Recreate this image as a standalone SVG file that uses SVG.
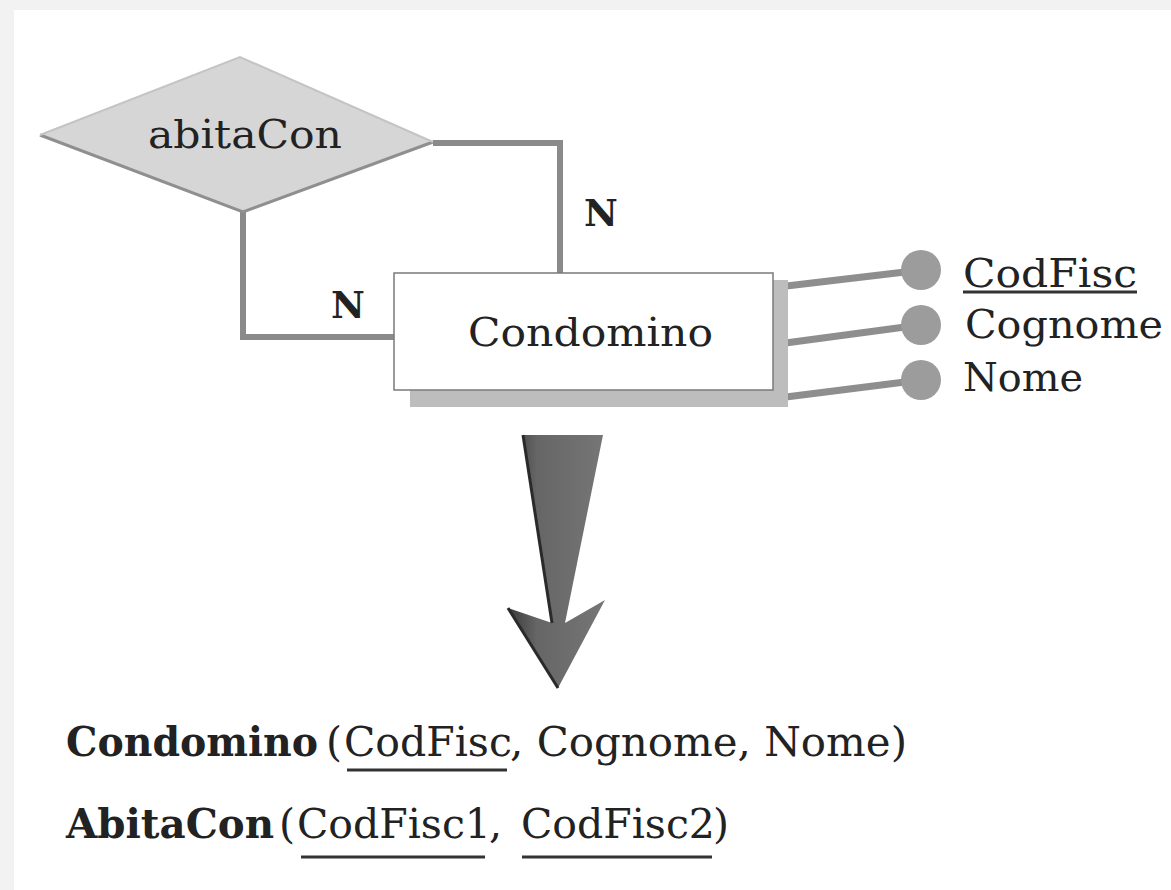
<svg xmlns="http://www.w3.org/2000/svg" width="1171" height="890" viewBox="0 0 1171 890">
  <defs>
    <style>
      .t { font-family: "DejaVu Serif", "Liberation Serif", serif; fill: #222; }
      .b { font-weight: bold; }
      .link { fill: none; stroke: #8a8a8a; stroke-width: 6; stroke-linejoin: miter; }
      .attr { stroke: #8e8e8e; stroke-width: 7; stroke-linecap: round; }
      .dot { fill: #9c9c9c; }
      .ul { stroke: #333; stroke-width: 3; }
    </style>
    <linearGradient id="arrowFill" x1="0" y1="0" x2="1" y2="0">
      <stop offset="0" stop-color="#3a3a3a"/>
      <stop offset="0.3" stop-color="#666666"/>
      <stop offset="1" stop-color="#767676"/>
    </linearGradient>
  </defs>

  <!-- page -->
  <rect x="0" y="0" width="1171" height="890" fill="#f2f2f2"/>
  <rect x="14" y="10" width="1157" height="880" fill="#ffffff"/>

  <!-- connectors -->
  <g id="connectors">
    <polyline class="link" points="433,143 560,143 560,273"/>
    <polyline class="link" points="243,210 243,337 394,337"/>
    <line class="attr" x1="778" y1="287" x2="905" y2="272"/>
    <line class="attr" x1="778" y1="344" x2="905" y2="327"/>
    <line class="attr" x1="778" y1="398" x2="905" y2="382"/>
  </g>

  <!-- relationship -->
  <g id="abitaCon">
    <polygon points="40,135 240,57 433,142 243,212" fill="#d6d6d6"/>
    <polyline points="40,135 243,212 433,142" fill="none" stroke="#8f8f8f" stroke-width="3"/>
    <polyline points="40,135 240,57 433,142" fill="none" stroke="#c4c4c4" stroke-width="2"/>
    <text class="t" x="148" y="148" font-size="39" textLength="194" lengthAdjust="spacingAndGlyphs">abitaCon</text>
  </g>

  <!-- cardinalities -->
  <g id="card-top">
    <text class="t b" x="584" y="226" font-size="37">N</text>
  </g>
  <g id="card-left">
    <text class="t b" x="331" y="318" font-size="37">N</text>
  </g>

  <!-- entity -->
  <g id="condomino">
    <polygon points="773,280 788,280 788,407 410,407 410,390 773,390" fill="#bdbdbd"/>
    <rect x="394" y="273" width="379" height="117" fill="#ffffff" stroke="#7a7a7a" stroke-width="1.5"/>
    <text class="t" x="468" y="346" font-size="40" textLength="245" lengthAdjust="spacingAndGlyphs">Condomino</text>
  </g>

  <!-- attributes -->
  <g id="attr-codfisc">
    <circle class="dot" cx="921" cy="270" r="20"/>
    <text class="t" x="963" y="287" font-size="40" textLength="174" lengthAdjust="spacingAndGlyphs">CodFisc</text>
    <line class="ul" x1="963" y1="292" x2="1137" y2="292"/>
  </g>
  <g id="attr-cognome">
    <circle class="dot" cx="921" cy="325" r="20"/>
    <text class="t" x="965" y="338" font-size="40" textLength="198" lengthAdjust="spacingAndGlyphs">Cognome</text>
  </g>
  <g id="attr-nome">
    <circle class="dot" cx="921" cy="380" r="20"/>
    <text class="t" x="963" y="391" font-size="40" textLength="120" lengthAdjust="spacingAndGlyphs">Nome</text>
  </g>

  <!-- translation arrow -->
  <g id="arrow">
    <polygon points="523,435 603,435 565,623 605,600 558,688 508,608 552,623" fill="url(#arrowFill)"/>
    <polyline points="523,435 552,623" fill="none" stroke="#2a2a2a" stroke-width="3"/>
    <polyline points="508,608 558,688" fill="none" stroke="#2a2a2a" stroke-width="3"/>
  </g>

  <!-- relational schema -->
  <g id="schema-condomino">
    <text class="t b" x="66" y="756" font-size="41" textLength="252" lengthAdjust="spacingAndGlyphs">Condomino</text>
    <text class="t" x="326" y="756" font-size="41">(</text>
    <text class="t" x="344" y="756" font-size="41">CodFisc</text>
    <text class="t" x="510" y="756" font-size="41" textLength="397" lengthAdjust="spacingAndGlyphs">, Cognome, Nome)</text>
    <line class="ul" x1="347" y1="770" x2="507" y2="770"/>
  </g>
  <g id="schema-abitacon">
    <text class="t b" x="66" y="838" font-size="41" textLength="208" lengthAdjust="spacingAndGlyphs">AbitaCon</text>
    <text class="t" x="279" y="838" font-size="41">(</text>
    <text class="t" x="297" y="838" font-size="41">CodFisc1</text>
    <text class="t" x="489" y="838" font-size="41">,</text>
    <text class="t" x="521" y="838" font-size="41">CodFisc2</text>
    <text class="t" x="713" y="838" font-size="41">)</text>
    <line class="ul" x1="301" y1="857" x2="485" y2="857"/>
    <line class="ul" x1="522" y1="857" x2="712" y2="857"/>
  </g>
</svg>
